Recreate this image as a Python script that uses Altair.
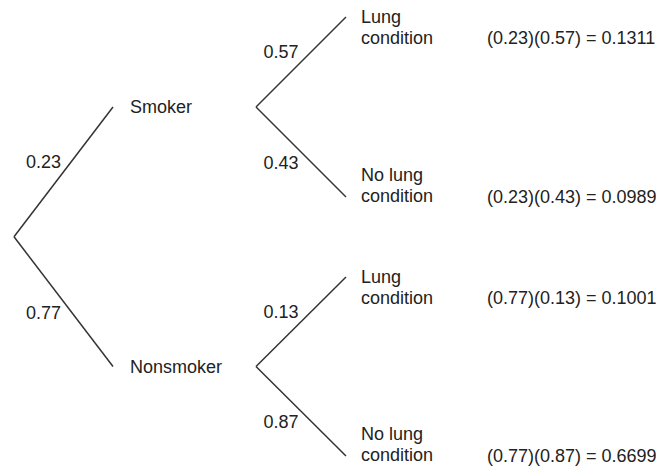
import altair as alt
import pandas as pd

# ---- data ----
first_level = ["Smoker", "Nonsmoker"]
p_first = [0.23, 0.77]
second_level = ["Lung\ncondition", "No lung\ncondition"]
p_given_smoker = [0.57, 0.43]
p_given_nonsmoker = [0.13, 0.87]
p_second = [p_given_smoker, p_given_nonsmoker]

# ---- layout (pixel-like canvas units) ----
W, H = 664, 468
X_ROOT, X_L1_END, X_L1_TEXT = 14, 113, 130
X_L2_START, X_L2_END, X_LEAF_TEXT, X_PROD = 256, 346, 361, 487
LEAF_Y = [17, 197, 277, 456]
FONT = "Liberation Sans"
FS = 18
INK = "#222222"
LINE = "#333333"

edges, plabels, nodes, leaves, prods = [], [], [], [], []
l1_y = [(LEAF_Y[0] + LEAF_Y[1]) / 2, (LEAF_Y[2] + LEAF_Y[3]) / 2]
root_y = (l1_y[0] + l1_y[1]) / 2
for i, (name, p) in enumerate(zip(first_level, p_first)):
    y1 = l1_y[i]
    edges.append(dict(x=X_ROOT, y=root_y, x2=X_L1_END, y2=y1))
    plabels.append(dict(x=(X_ROOT + X_L1_END) / 2, y=(root_y + y1) / 2,
                        t=f"{p:.2f}", up=y1 < root_y))
    nodes.append(dict(x=X_L1_TEXT, y=y1, t=name))
    for j, (lab, q) in enumerate(zip(second_level, p_second[i])):
        y2 = LEAF_Y[2 * i + j]
        up = y2 < y1
        edges.append(dict(x=X_L2_START, y=y1, x2=X_L2_END, y2=y2))
        plabels.append(dict(x=(X_L2_START + X_L2_END) / 2, y=(y1 + y2) / 2,
                            t=f"{q:.2f}", up=up))
        leaves.append(dict(x=X_LEAF_TEXT, y=y2 + (1 if up else -21), t=lab))
        prods.append(dict(x=X_PROD, y=y2 + (22 if up else 1),
                          t=f"({p:.2f})({q:.2f}) = {p * q:.4f}"))

xs = alt.Scale(domain=[8, W - 8])
ys = alt.Scale(domain=[H - 8, 8])
X = alt.X("x:Q", scale=xs, axis=None)
Y = alt.Y("y:Q", scale=ys, axis=None)

edge_layer = alt.Chart(pd.DataFrame(edges)).mark_rule(
    color=LINE, strokeWidth=1.5
).encode(X, Y, x2="x2:Q", y2="y2:Q")

pl = pd.DataFrame(plabels)
txt = dict(font=FONT, fontSize=FS, color=INK, baseline="middle")
up_layer = alt.Chart(pl[pl.up]).mark_text(align="center", dx=-20, dy=-9, **txt).encode(X, Y, text="t:N")
down_layer = alt.Chart(pl[~pl.up]).mark_text(align="center", dx=-20, dy=12, **txt).encode(X, Y, text="t:N")
node_layer = alt.Chart(pd.DataFrame(nodes)).mark_text(align="left", dy=1, **txt).encode(X, Y, text="t:N")
leaf_layer = alt.Chart(pd.DataFrame(leaves)).mark_text(
    align="left", lineBreak="\n", lineHeight=21, **txt
).encode(X, Y, text="t:N")
prod_layer = alt.Chart(pd.DataFrame(prods)).mark_text(align="left", **txt).encode(X, Y, text="t:N")

chart = alt.layer(
    edge_layer, up_layer, down_layer, node_layer, leaf_layer, prod_layer
).properties(
    width=W - 16, height=H - 16,
    padding={"left": 0, "top": 0, "right": 0, "bottom": 8},
    autosize=alt.AutoSizeParams(type="none"),
    background="white"
).configure_view(stroke=None)

chart.save("out.html", embed_options={"renderer": "svg", "actions": False})
